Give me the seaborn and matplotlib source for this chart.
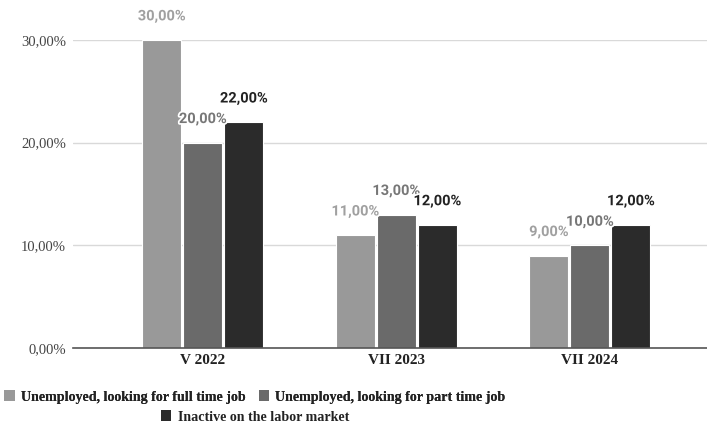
import matplotlib
matplotlib.use("Agg")
import matplotlib.pyplot as plt
import matplotlib.patheffects as pe
from matplotlib.patches import Patch
import seaborn as sns
import pandas as pd

categories = ["V 2022", "VII 2023", "VII 2024"]
series = ["Unemployed, looking for full time job",
          "Unemployed, looking for part time job",
          "Inactive on the labor market"]
full_time = [30, 11, 9]
part_time = [20, 13, 10]
inactive = [22, 12, 12]
y_ticks = [0, 10, 20, 30]
y_tick_labels = ["0,00%", "10,00%", "20,00%", "30,00%"]

colors = ["#999999", "#6a6a6a", "#2b2b2b"]
label_colors = ["#a0a0a0", "#777777", "#222222"]

rows = []
for s, vals in zip(series, [full_time, part_time, inactive]):
    for c, v in zip(categories, vals):
        rows.append({"cat": c, "series": s, "value": v})
df = pd.DataFrame(rows)

sns.set_style("white")
fig = plt.figure(figsize=(7.07, 4.25), dpi=100)
ax = fig.add_axes([0.103, 0.181, 0.897, 0.725])

sns.barplot(data=df, x="cat", y="value", hue="series", order=categories,
            hue_order=series, palette=colors, width=0.636, gap=0.05,
            edgecolor="white", linewidth=0.8, ax=ax, legend=False, zorder=3)

ax.set_ylim(0, 30)
ax.set_xlim(-0.672, 2.605)
ax.set_yticks(y_ticks)
ax.set_yticklabels(y_tick_labels, family="Liberation Serif", fontsize=10.5, color="#444444")
ax.set_xticks(range(len(categories)))
ax.set_xticklabels(categories, family="Liberation Serif", fontsize=11,
                   fontweight="bold", color="#222222")
ax.tick_params(axis="both", length=0, pad=5)
ax.tick_params(axis="x", pad=4)
ax.yaxis.grid(True, color="#d9d9d9", linewidth=1, zorder=0)
ax.set_axisbelow(True)
for s in ["top", "left", "right"]:
    ax.spines[s].set_visible(False)
ax.spines["bottom"].set_color("#555555")
ax.spines["bottom"].set_linewidth(1.2)
ax.spines["bottom"].set_zorder(5)
ax.set_xlabel("")
ax.set_ylabel("")

for i, cont in enumerate(ax.containers):
    for bar in cont:
        h = bar.get_height()
        ax.annotate(f"{h:.2f}".replace(".", ",") + "%",
                    (bar.get_x() + bar.get_width() / 2, h),
                    xytext=(0, 17), textcoords="offset points",
                    ha="center", va="center", family="Roboto", fontweight="bold",
                    fontsize=10.5, color=label_colors[i], annotation_clip=False,
                    path_effects=[pe.withStroke(linewidth=2.5, foreground="white")],
                    zorder=6)

handles = [Patch(facecolor=c, edgecolor="none") for c in colors]
leg_font = {"family": "Liberation Serif", "weight": "bold", "size": 10.1}
cx = 255 / 707
leg1 = fig.legend(handles[:2], series[:2], loc="center", bbox_to_anchor=(cx, 1 - 397 / 425),
                  ncol=2, frameon=False, prop=leg_font, handlelength=0.75, handleheight=0.75,
                  handletextpad=0.45, columnspacing=0.9, labelcolor="#222222",
                  borderaxespad=0, borderpad=0)
leg2 = fig.legend(handles[2:], series[2:], loc="center", bbox_to_anchor=(cx, 1 - 417 / 425),
                  ncol=1, frameon=False, prop=leg_font, handlelength=0.75, handleheight=0.75,
                  handletextpad=0.45, labelcolor="#222222", borderaxespad=0, borderpad=0)
fig.add_artist(leg1)

fig.savefig("out.png", dpi=100)
